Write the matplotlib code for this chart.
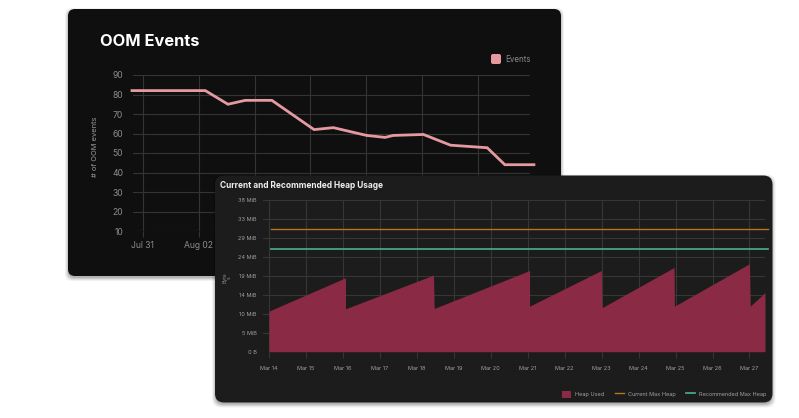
#!/usr/bin/env python3
"""OOM events card with the heap usage card overlapping it."""
import matplotlib
matplotlib.use("Agg")
import matplotlib.pyplot as plt
from matplotlib.lines import Line2D
from matplotlib.patches import FancyBboxPatch, Patch

plt.rcParams["font.family"] = ["Inter", "Lato", "DejaVu Sans"]

W, H = 799, 418

# days after Jul 31
oom_days = [-0.38, 2.24, 3.05, 3.67, 4.62, 6.13, 6.82, 8.01, 8.67, 8.96, 10.04, 11.01, 12.32, 12.95, 13.99]
oom_events = [82, 82, 75, 77, 77, 62, 63, 59, 58, 59, 59.5, 54, 52.7, 44, 44]
oom_tick_days = [0, 2, 4, 6, 8, 10, 12]
oom_tick_labels = ["Jul 31", "Aug 02", "Aug 04", "Aug 06", "Aug 08", "Aug 10", "Aug 12"]
oom_yticks = [10, 20, 30, 40, 50, 60, 70, 80, 90]

# days after Mar 14, heap in MB (1e6 bytes)
heap_days = [0, 2.07, 2.07, 4.45, 4.47, 7.05, 7.05, 8.99, 9.01, 10.96, 10.97, 13.0, 13.02, 13.42]
heap_used = [10.7, 19.5, 11.3, 20.2, 11.4, 21.4, 12.0, 21.4, 11.6, 22.2, 12.0, 23.2, 12.0, 15.6]
max_heap_days = [0.06, 13.5]
current_max = [32.4, 32.4]
recommended_max = [27.1, 27.1]
heap_tick_days = list(range(14))
heap_tick_labels = [f"Mar {d}" for d in range(14, 28)]
heap_yticks = [0, 5, 10, 15, 20, 25, 30, 35, 40]
heap_ytick_labels = ["0 B", "5 MiB", "10 MiB", "14 MiB", "19 MiB", "24 MiB", "29 MiB", "33 MiB", "38 MiB"]

PINK, CRIMSON = "#e59aa0", "#8b2a45"
ORANGE, GREEN = "#b5761f", "#45a582"
GRID1, GRID2 = "#343434", "#363636"


def px_axes(x0, y0, x1, y1, zorder):
    # pixel box measured from the top left of the picture
    return fig.add_axes([x0 / W, 1 - y1 / H, (x1 - x0) / W, (y1 - y0) / H], zorder=zorder)


def card(ax, x0, y0, x1, y1, fc, rad):
    # soft shadow, a few faint layers
    for grow, alpha in ((4, 0.05), (3, 0.07), (2, 0.09), (1, 0.12)):
        ax.add_patch(FancyBboxPatch((x0 + rad - grow + 1, y0 + rad - grow + 3),
                                    x1 - x0 - 2 * rad + 2 * grow - 2, y1 - y0 - 2 * rad + 2 * grow - 2,
                                    boxstyle=f"round,pad={rad},rounding_size={rad}",
                                    fc="black", ec="none", alpha=alpha))
    ax.add_patch(FancyBboxPatch((x0 + rad, y0 + rad), x1 - x0 - 2 * rad, y1 - y0 - 2 * rad,
                                boxstyle=f"round,pad={rad},rounding_size={rad}", fc=fc, ec="none"))


def overlay(zorder):
    ax = fig.add_axes([0, 0, 1, 1], zorder=zorder)
    ax.set_xlim(0, W)
    ax.set_ylim(H, 0)
    ax.axis("off")
    return ax


def style(ax, grid, tickc, ticksize):
    ax.patch.set_alpha(0)
    for s in ax.spines.values():
        s.set_visible(False)
    ax.grid(True, color=grid, linewidth=0.8)
    ax.set_axisbelow(True)
    ax.tick_params(axis="x", color=grid, labelcolor=tickc, labelsize=ticksize, length=4.5, width=0.8)
    ax.tick_params(axis="y", length=0, labelcolor=tickc, labelsize=ticksize)


fig = plt.figure(figsize=(W / 100, H / 100), dpi=100, facecolor="white")

# ----- OOM card -----
back = overlay(0)
card(back, 68, 9, 561, 276, "#0f0f0f", 7)
back.text(99.5, 41, "OOM Events", color="white", fontsize=11.8, fontweight="bold", ha="left", va="center")
back.text(95, 147, "# of OOM events", color="#9a9a9a", fontsize=5.4, rotation=90, ha="center", va="center")
back.add_patch(FancyBboxPatch((492, 55), 8, 8, boxstyle="round,pad=1,rounding_size=2", fc=PINK, ec="none"))
back.text(505, 59, "Events", color="#8a8a8a", fontsize=5.8, ha="left", va="center")

ax1 = px_axes(133, 75, 530, 231, 1)
style(ax1, GRID1, "#8c8c8c", 6.2)
ax1.plot(oom_days, oom_events, color=PINK, linewidth=2.0, solid_joinstyle="miter", clip_on=False)
ax1.set_xlim(-0.345, 13.85)
ax1.set_ylim(10, 90)
ax1.set_xticks(oom_tick_days, oom_tick_labels)
ax1.set_yticks(oom_yticks)
ax1.tick_params(axis="y", pad=7)
ax1.tick_params(axis="x", pad=3)

# ----- heap card -----
front = overlay(2)
card(front, 215, 175.5, 772.5, 402.5, "#1c1c1c", 9)
front.text(220, 186, "Current and Recommended Heap Usage", color="#f0f0f0", fontsize=6.0, fontweight="bold",
           ha="left", va="center")
front.text(227, 278, "Byte\ns", color="#8c8c8c", fontsize=3.6, rotation=90, ha="center", va="center", linespacing=1)

ax2 = px_axes(262.7, 200, 765, 351.7, 3)
style(ax2, GRID2, "#a0a0a0", 4.0)
ax2.fill_between(heap_days, heap_used, 0, color=CRIMSON, linewidth=0, zorder=2)
ax2.plot(max_heap_days, current_max, color=ORANGE, linewidth=1.0, clip_on=False, zorder=3)
ax2.plot(max_heap_days, recommended_max, color=GREEN, linewidth=1.3, clip_on=False, zorder=3)
ax2.set_xlim(-0.17, 13.42)
ax2.set_ylim(0, 40)
ax2.set_xticks(heap_tick_days, heap_tick_labels)
ax2.set_yticks(heap_yticks, heap_ytick_labels)
ax2.tick_params(axis="y", pad=4.5)
ax2.tick_params(axis="x", pad=6, length=4.5)

handles = [Patch(fc=CRIMSON, ec="none", label="Heap Used"),
           Line2D([], [], color=ORANGE, linewidth=1.0, label="Current Max Heap"),
           Line2D([], [], color=GREEN, linewidth=1.3, label="Recommended Max Heap")]
leg = fig.legend(handles=handles, loc="lower right", bbox_to_anchor=(766 / W, 1 - 398 / H), ncol=3, frameon=False,
                 fontsize=4.0, labelcolor="#a0a0a0", handlelength=1.65, handleheight=1.65, handletextpad=0.65,
                 columnspacing=1.9, borderpad=0, borderaxespad=0)
leg.set_zorder(4)

fig.savefig("out.png", dpi=100)
